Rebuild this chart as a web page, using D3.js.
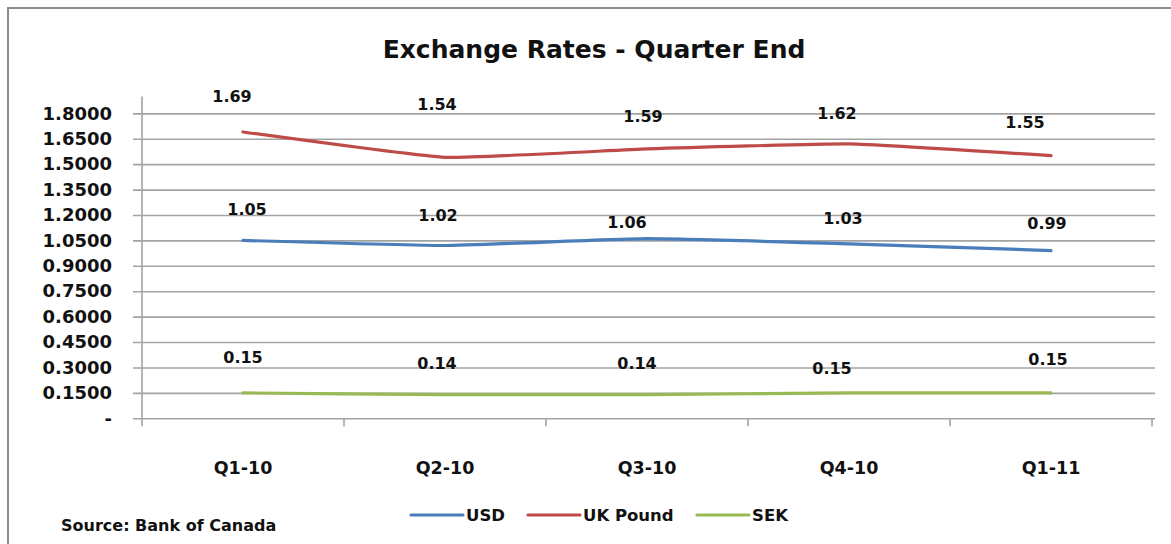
<!DOCTYPE html>
<html>
<head>
<meta charset="utf-8">
<script src="https://cdn.jsdelivr.net/npm/d3@7"></script>
<style>
  html, body { margin: 0; padding: 0; background: #fff; }
  svg { display: block; }
  text { font-family: "DejaVu Sans", sans-serif; font-weight: bold; fill: #111; }
</style>
</head>
<body>
<svg id="chart" width="1171" height="544"></svg>
<script>
// ---------- data ----------
const categories = ["Q1-10", "Q2-10", "Q3-10", "Q4-10", "Q1-11"];
const usd = [1.05, 1.02, 1.06, 1.03, 0.99];
const ukPound = [1.69, 1.54, 1.59, 1.62, 1.55];
const sek = [0.15, 0.14, 0.14, 0.15, 0.15];
const seriesNames = ["USD", "UK Pound", "SEK"];
const yTicks = [0, 0.15, 0.30, 0.45, 0.60, 0.75, 0.90, 1.05, 1.20, 1.35, 1.50, 1.65, 1.80];
const title = "Exchange Rates - Quarter End";
const source = "Source: Bank of Canada";

// ---------- layout / style ----------
const colors = ["#4A7EBB", "#BE4B48", "#98B954"];
// manual data-label offsets (px) relative to each point, [dx, dy]
const labelOffsets = [
  [[4, -31], [-7, -30], [-20, -16], [-6, -26], [-4, -27]],
  [[-11, -36], [-8, -53], [-4, -33], [-12, -31], [-26, -33]],
  [[0, -36], [-8, -31], [-10, -31], [-17, -25], [-3, -34]]
];

const svg = d3.select("#chart");
const plot = { left: 142, right: 1152, top: 96.4, bottom: 418.3 };

// border
svg.append("rect")
  .attr("x", 8).attr("y", 8).attr("width", 1200).attr("height", 600)
  .attr("fill", "none").attr("stroke", "#8c8c8c").attr("stroke-width", 2);

const x = d3.scaleBand().domain(categories).range([plot.left, plot.right]);
const y = d3.scaleLinear().domain([0, 1.9]).range([plot.bottom, plot.top]);

// gridlines + y axis
const yAxis = d3.axisLeft(y)
  .tickValues(yTicks)
  .tickSize(-(plot.right + 3 - plot.left))
  .tickPadding(30)
  .tickFormat(d => d === 0 ? "-" : d.toFixed(4));
const gy = svg.append("g").attr("transform", `translate(${plot.left},0)`).call(yAxis);
gy.select(".domain").remove();
gy.selectAll(".tick line")
  .attr("x1", -9)
  .attr("stroke", "#a3a3a3").attr("stroke-width", 1.6);
gy.selectAll(".tick text")
  .attr("x", -30)
  .style("font-size", "18px").style("font-family", "DejaVu Sans").style("font-weight", "bold")
  .attr("fill", "#111");

// y axis line
svg.append("line")
  .attr("x1", plot.left).attr("x2", plot.left)
  .attr("y1", plot.top).attr("y2", plot.bottom)
  .attr("stroke", "#a3a3a3").attr("stroke-width", 1.6);

// x axis
const xAxis = d3.axisBottom(x).tickSize(0).tickPadding(43);
const gx = svg.append("g").attr("transform", `translate(0,${plot.bottom})`).call(xAxis);
gx.select(".domain").remove();
gx.selectAll(".tick text")
  .style("font-size", "17.5px").style("font-family", "DejaVu Sans").style("font-weight", "bold")
  .attr("fill", "#111");
// category boundary ticks
const bounds = categories.map(c => x(c)).concat([x(categories[categories.length - 1]) + x.bandwidth()]);
svg.append("g").selectAll("line").data(bounds).join("line")
  .attr("x1", d => d).attr("x2", d => d)
  .attr("y1", plot.bottom).attr("y2", plot.bottom + 8)
  .attr("stroke", "#a3a3a3").attr("stroke-width", 1.6);

// lines
const allSeries = [usd, ukPound, sek];
const line = d3.line()
  .x((d, i) => x(categories[i]) + x.bandwidth() / 2)
  .y(d => y(d))
  .curve(d3.curveCardinal.tension(0.65));

allSeries.forEach((vals, s) => {
  svg.append("path")
    .datum(vals)
    .attr("d", line)
    .attr("fill", "none")
    .attr("stroke", colors[s])
    .attr("stroke-width", 3.2)
    .attr("stroke-linecap", "round")
    .attr("stroke-linejoin", "round");
});

// data labels
allSeries.forEach((vals, s) => {
  svg.append("g").selectAll("text").data(vals).join("text")
    .attr("x", (d, i) => x(categories[i]) + x.bandwidth() / 2 + labelOffsets[s][i][0])
    .attr("y", (d, i) => y(d) + labelOffsets[s][i][1])
    .attr("dy", "0.36em")
    .attr("text-anchor", "middle")
    .style("font-size", "16px")
    .text(d => d.toFixed(2));
});

// title
svg.append("text")
  .attr("x", 594).attr("y", 58)
  .attr("text-anchor", "middle")
  .style("font-size", "25px")
  .text(title);

// legend
const legendItems = [
  { name: seriesNames[0], x: 411 },
  { name: seriesNames[1], x: 528 },
  { name: seriesNames[2], x: 697 }
];
const lg = svg.append("g");
legendItems.forEach((it, i) => {
  lg.append("line")
    .attr("x1", it.x).attr("x2", it.x + 52)
    .attr("y1", 515).attr("y2", 515)
    .attr("stroke", colors[i]).attr("stroke-width", 3.2)
    .attr("stroke-linecap", "round");
  lg.append("text")
    .attr("x", it.x + 55).attr("y", 515)
    .attr("dy", "0.36em")
    .style("font-size", "16.5px")
    .text(it.name);
});

// source
svg.append("text")
  .attr("x", 61).attr("y", 525)
  .attr("dy", "0.36em")
  .style("font-size", "16px")
  .text(source);
</script>
</body>
</html>
